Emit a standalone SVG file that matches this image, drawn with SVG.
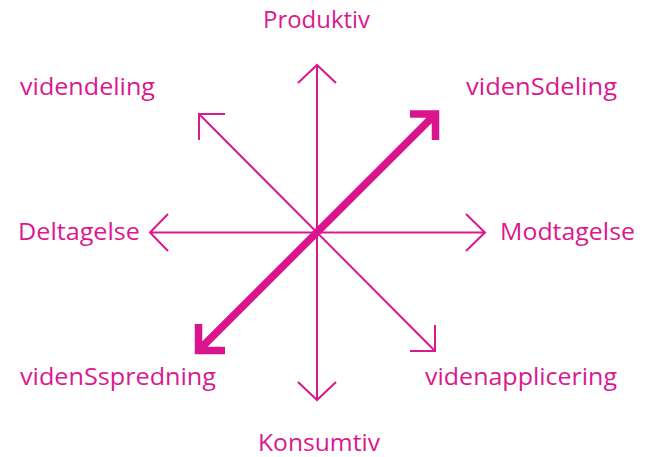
<svg xmlns="http://www.w3.org/2000/svg" width="653" height="457" viewBox="0 0 653 457">
<style>
.t{font-family:"Open Sans","Liberation Sans",sans-serif;font-size:23px;fill:#d9198f}
.thin{stroke:#d9198f;stroke-width:2;fill:none;stroke-linecap:butt;stroke-linejoin:miter}
.thick{stroke:#d9148c;stroke-width:7.5;fill:none;stroke-linecap:butt;stroke-linejoin:miter;stroke-miterlimit:10}
</style>
<rect width="653" height="457" fill="#ffffff"/>
<g id="connectors">
<path class="thin" d="M317 65 V400 M298 83 L317 65 L336 83 M298 382 L317 400 L336 382"/>
<path class="thin" d="M150 232.5 H485 M168 214 L150 232.5 L168 251 M466 214 L485 232.5 L466 251"/>
<path class="thin" d="M199 114 L435 351 M225 114 H199 V140 M410 351 H435 V325"/>
<path class="thick" d="M198.5 350.5 L435.5 114 M410 114 H435.5 V140 M225 350.5 H198.5 V324"/>
</g>
<g id="n-produktiv"><text class="t" x="263" y="28" textLength="107" lengthAdjust="spacingAndGlyphs">Produktiv</text></g>
<g id="n-videndeling"><text class="t" x="20" y="95" textLength="135" lengthAdjust="spacingAndGlyphs">videndeling</text></g>
<g id="n-videnSdeling"><text class="t" x="466" y="95" textLength="151" lengthAdjust="spacingAndGlyphs">videnSdeling</text></g>
<g id="n-deltagelse"><text class="t" x="18" y="240" textLength="122" lengthAdjust="spacingAndGlyphs">Deltagelse</text></g>
<g id="n-modtagelse"><text class="t" x="500" y="240" textLength="135" lengthAdjust="spacingAndGlyphs">Modtagelse</text></g>
<g id="n-videnSspredning"><text class="t" x="20" y="385" textLength="196" lengthAdjust="spacingAndGlyphs">videnSspredning</text></g>
<g id="n-videnapplicering"><text class="t" x="425" y="385" textLength="192" lengthAdjust="spacingAndGlyphs">videnapplicering</text></g>
<g id="n-konsumtiv"><text class="t" x="258" y="451" textLength="122" lengthAdjust="spacingAndGlyphs">Konsumtiv</text></g>
</svg>
